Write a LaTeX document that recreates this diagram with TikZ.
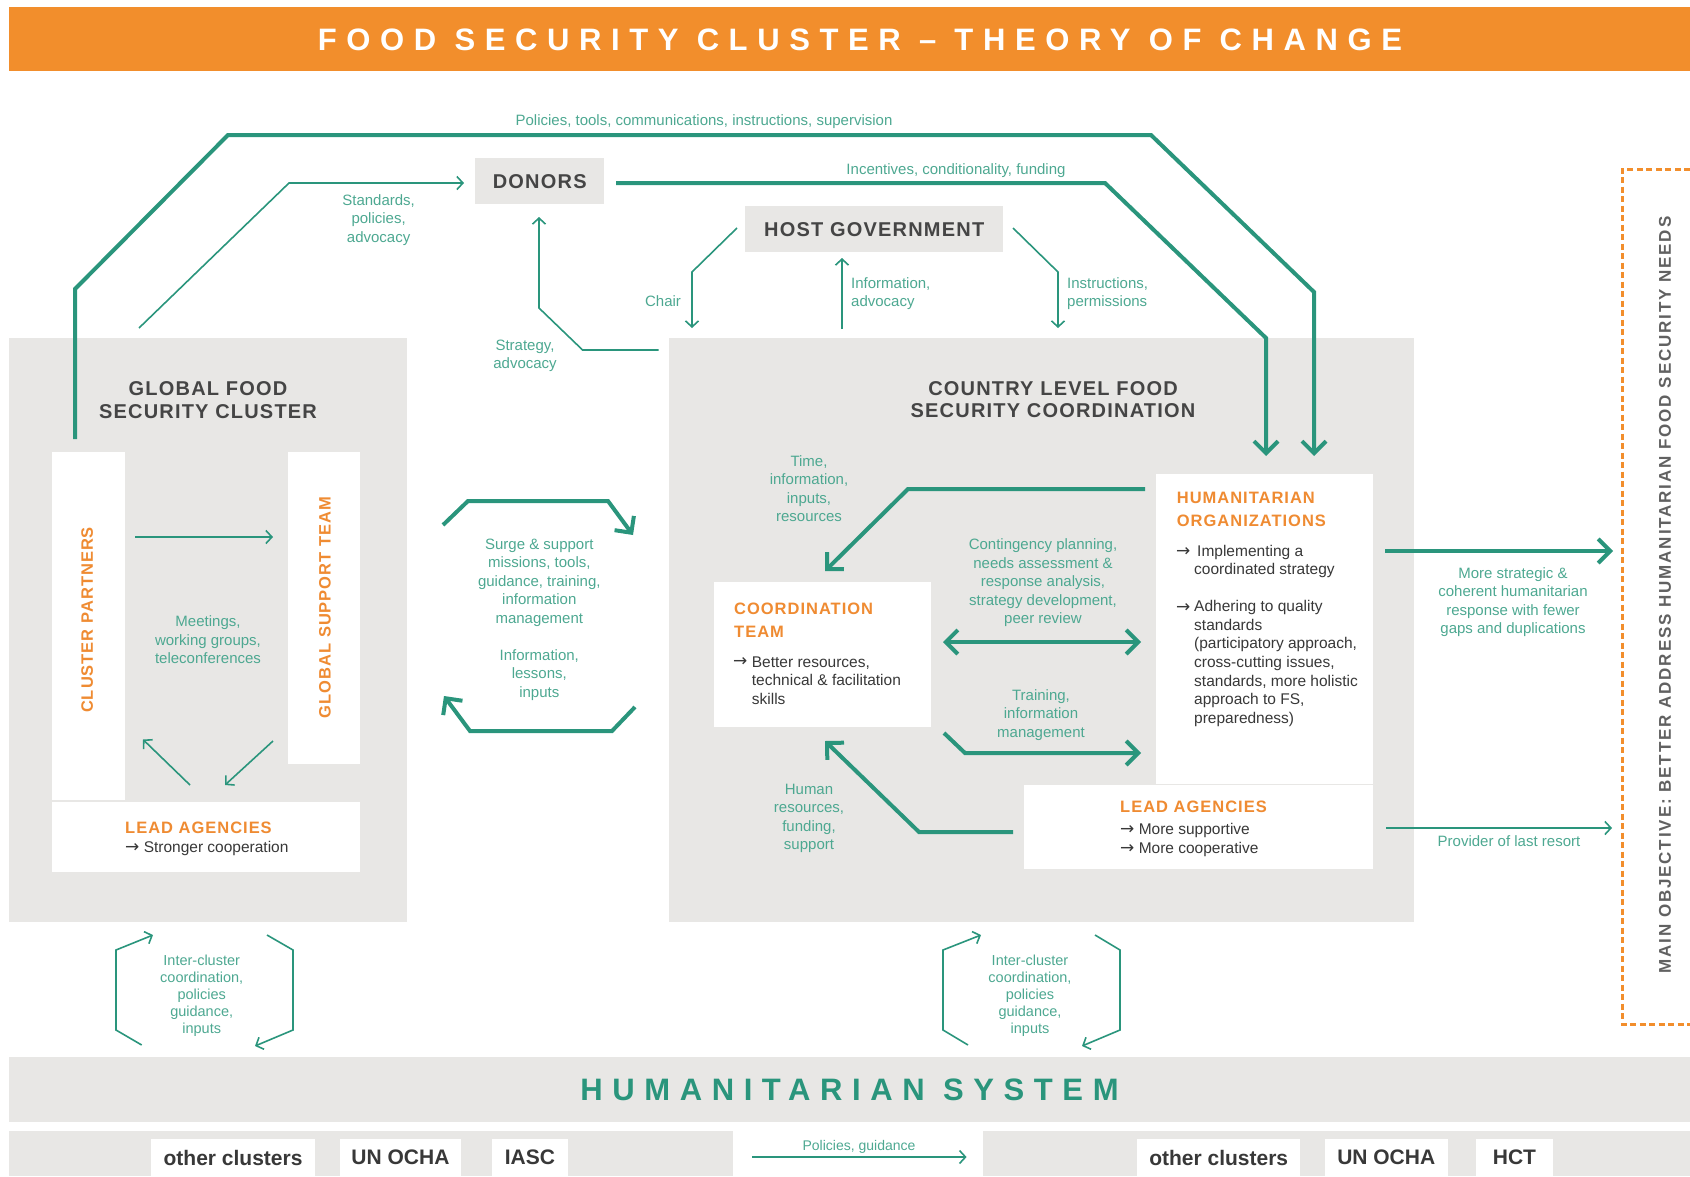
\documentclass[tikz,border=0pt]{standalone}
\usepackage{fontspec}
\setmainfont{Liberation Sans}
\newfontfamily\wideface[LetterSpace=31]{Liberation Sans}
\newfontfamily\headface[LetterSpace=6]{Liberation Sans}
\newfontfamily\objface[LetterSpace=11]{Liberation Sans}
\newfontfamily\arrowface{DejaVu Sans}
\newcommand{\bulletarrow}{{\arrowface\fontsize{17}{18.6}\selectfont →}}
\usetikzlibrary{arrows.meta}

\definecolor{fscorange}{HTML}{F28E2C}
\definecolor{fscteal}{HTML}{2A957C}
\definecolor{labteal}{HTML}{4DA891}
\definecolor{panelgray}{HTML}{E8E7E5}
\definecolor{inkdark}{HTML}{383838}
\definecolor{headgray}{HTML}{454545}
\definecolor{hdrorange}{HTML}{EF8B32}

\tikzset{
  panel/.style={fill=panelgray, draw=none, inner sep=0pt, anchor=north west},
  card/.style={fill=white, draw=none, inner sep=0pt, anchor=north west},
  lab/.style={text=labteal, font=\fontsize{15}{18.5}\selectfont, align=center, inner sep=0pt},
  smalllab/.style={text=labteal, font=\fontsize{14.5}{17.1}\selectfont, align=center, inner sep=0pt},
  body/.style={text=inkdark, font=\fontsize{15.5}{18.6}\selectfont, align=left, inner sep=0pt, anchor=west},
  orghead/.style={text=hdrorange, font=\headface\bfseries\fontsize{16.5}{22.7}\selectfont, align=left, inner sep=0pt, anchor=west},
  bighead/.style={text=headgray, font=\headface\bfseries\fontsize{20}{22.5}\selectfont, align=center, inner sep=0pt},
  vlabel/.style={text=hdrorange, font=\headface\bfseries\fontsize{16.5}{20}\selectfont, inner sep=0pt, rotate=90},
  chip/.style={text=inkdark, font=\bfseries\fontsize{21}{24}\selectfont, inner sep=0pt},
  bigflow/.style={draw=fscteal, line width=4pt, line join=miter, -{Straight Barb[length=12pt,width=24pt]}},
  bigboth/.style={draw=fscteal, line width=4pt, {Straight Barb[length=12pt,width=24pt]}-{Straight Barb[length=12pt,width=24pt]}},
  thinflow/.style={draw=fscteal, line width=1.6pt, -{Straight Barb[length=6pt,width=13pt]}}
}

\begin{document}
\begin{tikzpicture}[x=1pt,y=-1pt]
\useasboundingbox (0,0) rectangle (1690,1176);

% ---------- banner ----------
\fill[fscorange] (9,7) rectangle (1690,71);
\node[text=white, font=\wideface\bfseries\fontsize{31}{34}\selectfont, inner sep=0pt] (title) at (860,40) {FOOD SECURITY CLUSTER – THEORY OF CHANGE};

% ---------- panels ----------
\node[panel, minimum width=398.4pt, minimum height=583.5pt] (gfsc) at (8.6,338) {};
\node[panel, minimum width=745pt, minimum height=583.5pt] (clfsc) at (669,338) {};
\node[panel, minimum width=129pt, minimum height=46pt] (donors) at (475,158) {};
\node[panel, minimum width=258pt, minimum height=46pt] (hostgov) at (745,206) {};
\node[bighead] (donorstxt) at (donors.center) {DONORS};
\node[bighead] (hosttxt) at (hostgov.center) {HOST GOVERNMENT};

\node[bighead] (gfschead) at (208,400) {GLOBAL FOOD\\SECURITY CLUSTER};
\node[bighead] (clhead) at (1053,399.5) {COUNTRY LEVEL FOOD\\SECURITY COORDINATION};

% ---------- global cluster cards ----------
\node[card, minimum width=73.3pt, minimum height=348.3pt] (cp) at (51.7,451.7) {};
\node[card, minimum width=72.3pt, minimum height=311.9pt] (gst) at (287.7,451.7) {};
\node[card, minimum width=308.3pt, minimum height=69.5pt] (lag) at (51.7,802) {};
\node[vlabel] (cptxt) at (87.3,620) {CLUSTER PARTNERS};
\node[vlabel] (gsttxt) at (325,607.5) {GLOBAL SUPPORT TEAM};
\node[orghead] (laghead) at (125,827.5) {LEAD AGENCIES};
\node[body] (lagtxt) at (125,848.6) {\bulletarrow\ Stronger cooperation};

\coordinate (cpout) at (135,537);
\coordinate (gstin) at (273,537);
\draw[thinflow] (cpout) -- (gstin);
\node[lab] (meet) at (208,640) {Meetings,\\working groups,\\teleconferences};
\coordinate (lagup) at (190,785);
\coordinate (cpin) at (143,739.5);
\draw[thinflow] (lagup) -- (cpin);
\coordinate (gstdown) at (273,741);
\coordinate (lagin) at (225,785);
\draw[thinflow] (gstdown) -- (lagin);

% ---------- country coordination cards ----------
\node[card, minimum width=216.7pt, minimum height=145pt] (ct) at (714,582) {};
\node[card, minimum width=217pt, minimum height=310pt] (ho) at (1156,474) {};
\node[card, minimum width=349pt, minimum height=84pt] (lac) at (1024,785) {};

\node[orghead] (cthead) at (734,619.9) {COORDINATION\\TEAM};
\node[body] (ctarr) at (733,662) {\bulletarrow};
\node[body] (cttxt) at (751.7,680.5) {Better resources,\\technical \& facilitation\\skills};

\node[orghead] (hohead) at (1176.7,509.4) {HUMANITARIAN\\ORGANIZATIONS};
\node[body] (hoarra) at (1176,552) {\bulletarrow};
\node[body] (hotxta) at (1194,561.5) {\hspace{3pt}Implementing a\\coordinated strategy};
\node[body] (hoarrb) at (1176,607.7) {\bulletarrow};
\node[body] (hotxtb) at (1194,663.4) {Adhering to quality\\standards\\(participatory approach,\\cross-cutting issues,\\standards, more holistic\\approach to FS,\\preparedness)};

\node[orghead] (lachead) at (1120,807) {LEAD AGENCIES};
\node[body] (lactxt) at (1120,840) {\bulletarrow\ More supportive\\\bulletarrow\ More cooperative};

% ---------- long feedback lines from the top ----------
\coordinate (polstart) at (75,439);
\coordinate (hoin1) at (1314,456);
\draw[bigflow] (polstart) -- (75,289) -- (228,135) -- (1151,135) -- (1314,292) -- (hoin1);
\node[lab] (pollab) at (704,122) {Policies, tools, communications, instructions, supervision};

\coordinate (donout) at (616,183);
\coordinate (hoin2) at (1266,456);
\draw[bigflow] (donout) -- (1105,183) -- (1266,338) -- (hoin2);
\node[lab] (inclab) at (956,171) {Incentives, conditionality, funding};

\coordinate (stdstart) at (139,328);
\coordinate (donin) at (464,183);
\draw[thinflow] (stdstart) -- (289,183) -- (donin);
\node[lab] (stdlab) at (378.6,220) {Standards,\\policies,\\advocacy};

\coordinate (stratstart) at (658.5,350);
\coordinate (donbot) at (539,217);
\draw[thinflow] (stratstart) -- (582.6,350) -- (539,308) -- (donbot);
\node[lab] (stratlab) at (525,356) {Strategy,\\advocacy};

\coordinate (chairstart) at (737,228);
\coordinate (chairend) at (692,328);
\draw[thinflow] (chairstart) -- (692,272) -- (chairend);
\node[lab] (chairlab) at (663,301) {Chair};

\coordinate (infostart) at (842,329);
\coordinate (infoend) at (842,258);
\draw[thinflow] (infostart) -- (infoend);
\node[lab, anchor=west, align=left] (infolab) at (851,293.5) {Information,\\advocacy};

\coordinate (inststart) at (1013,228);
\coordinate (instend) at (1058,328);
\draw[thinflow] (inststart) -- (1058,272) -- (instend);
\node[lab, anchor=west, align=left] (instlab) at (1067,293.5) {Instructions,\\permissions};

% ---------- global <-> country exchange ----------
\coordinate (surgea) at (443,525);
\coordinate (surgeb) at (633,535);
\draw[bigflow] (surgea) -- (468,501) -- (608,501) -- (surgeb);
\coordinate (backa) at (635,707);
\coordinate (backb) at (444,696);
\draw[bigflow] (backa) -- (612,731) -- (470,731) -- (backb);
\node[lab] (surgelab) at (539.3,619.5) {Surge \& support\\missions, tools,\\guidance, training,\\information\\management\\[18.5pt]Information,\\lessons,\\inputs};

% ---------- flows inside the country coordination ----------
\coordinate (timestart) at (1145,489);
\coordinate (timeend) at (825,571);
\draw[bigflow] (timestart) -- (908,489) -- (timeend);
\node[lab] (timelab) at (809,488.7) {Time,\\information,\\inputs,\\resources};

\coordinate (conta) at (943,642);
\coordinate (contb) at (1141,642);
\draw[bigboth] (conta) -- (contb);
\node[lab] (contlab) at (1043,582.9) {Contingency planning,\\needs assessment \&\\response analysis,\\strategy development,\\peer review};

\coordinate (traina) at (944,733);
\coordinate (trainb) at (1141,753);
\draw[bigflow] (traina) -- (965,753) -- (trainb);
\node[lab] (trainlab) at (1041,714.7) {Training,\\information\\management};

\coordinate (huma) at (1013,832);
\coordinate (humb) at (825,741);
\draw[bigflow] (huma) -- (919,832) -- (humb);
\node[lab] (humlab) at (809,818.4) {Human\\resources,\\funding,\\support};

% ---------- towards the main objective ----------
\coordinate (outa) at (1385,551);
\coordinate (outb) at (1613,551);
\draw[bigflow] (outa) -- (outb);
\node[lab] (outlab) at (1513,602) {More strategic \&\\coherent humanitarian\\response with fewer\\gaps and duplications};
\coordinate (lasta) at (1386,828);
\coordinate (lastb) at (1612,828);
\draw[thinflow] (lasta) -- (lastb);
\node[lab] (lastlab) at (1509,840.7) {Provider of last resort};

\draw[fscorange, line width=3pt, dash pattern=on 6pt off 3.5pt] (1690,169) -- (1622,169) -- (1622,1024) -- (1690,1024);
\node[text=headgray!85, font=\objface\bfseries\fontsize{17}{20}\selectfont, inner sep=0pt, rotate=90] (objective) at (1665,595) {MAIN OBJECTIVE: BETTER ADDRESS HUMANITARIAN FOOD SECURITY NEEDS};

% ---------- inter-cluster links ----------
\coordinate (ila1) at (141.7,1045);
\coordinate (ila2) at (153,935);
\draw[thinflow] (ila1) -- (116,1030) -- (116,950) -- (ila2);
\coordinate (ilb1) at (267,935);
\coordinate (ilb2) at (255,1046);
\draw[thinflow] (ilb1) -- (293,950) -- (293,1030) -- (ilb2);
\node[smalllab] (illab) at (201.7,996) {Inter-cluster\\coordination,\\policies\\guidance,\\inputs};

\coordinate (ira1) at (968,1045);
\coordinate (ira2) at (981,935);
\draw[thinflow] (ira1) -- (943,1030) -- (943,950) -- (ira2);
\coordinate (irb1) at (1095,935);
\coordinate (irb2) at (1082,1046);
\draw[thinflow] (irb1) -- (1120,950) -- (1120,1030) -- (irb2);
\node[smalllab] (irlab) at (1030,996) {Inter-cluster\\coordination,\\policies\\guidance,\\inputs};

% ---------- humanitarian system ----------
\node[panel, minimum width=1681.4pt, minimum height=65pt] (humsys) at (8.6,1057) {};
\node[text=fscteal, font=\wideface\bfseries\fontsize{31}{34}\selectfont, inner sep=0pt] (humsystxt) at (humsys.center) {HUMANITARIAN SYSTEM};

\node[panel, minimum width=724.4pt, minimum height=45pt] (globalrow) at (8.6,1131) {};
\node[panel, minimum width=707pt, minimum height=45pt] (countryrow) at (983,1131) {};

\node[card, minimum width=163.7pt, minimum height=37pt] (oca) at (151,1139) {};
\node[card, minimum width=121.5pt, minimum height=37pt] (ochaa) at (339.5,1139) {};
\node[card, minimum width=76.5pt, minimum height=37pt] (iasc) at (491.5,1139) {};
\node[card, minimum width=163pt, minimum height=37pt] (ocb) at (1137,1139) {};
\node[card, minimum width=122.9pt, minimum height=37pt] (ochab) at (1324.6,1139) {};
\node[card, minimum width=77.5pt, minimum height=37pt] (hct) at (1475.5,1139) {};
\node[chip] (ocatxt) at (oca.center) {other clusters};
\node[chip] (ochaatxt) at (ochaa.center) {UN OCHA};
\node[chip] (iasctxt) at (iasc.center) {IASC};
\node[chip] (ocbtxt) at (ocb.center) {other clusters};
\node[chip] (ochabtxt) at (ochab.center) {UN OCHA};
\node[chip] (hcttxt) at (hct.center) {HCT};

\coordinate (pga) at (752,1157);
\coordinate (pgb) at (966.6,1157);
\draw[thinflow] (pga) -- (pgb);
\node[smalllab, font=\fontsize{14}{17}\selectfont] (pglab) at (859,1147) {Policies, guidance};
\end{tikzpicture}
\end{document}
